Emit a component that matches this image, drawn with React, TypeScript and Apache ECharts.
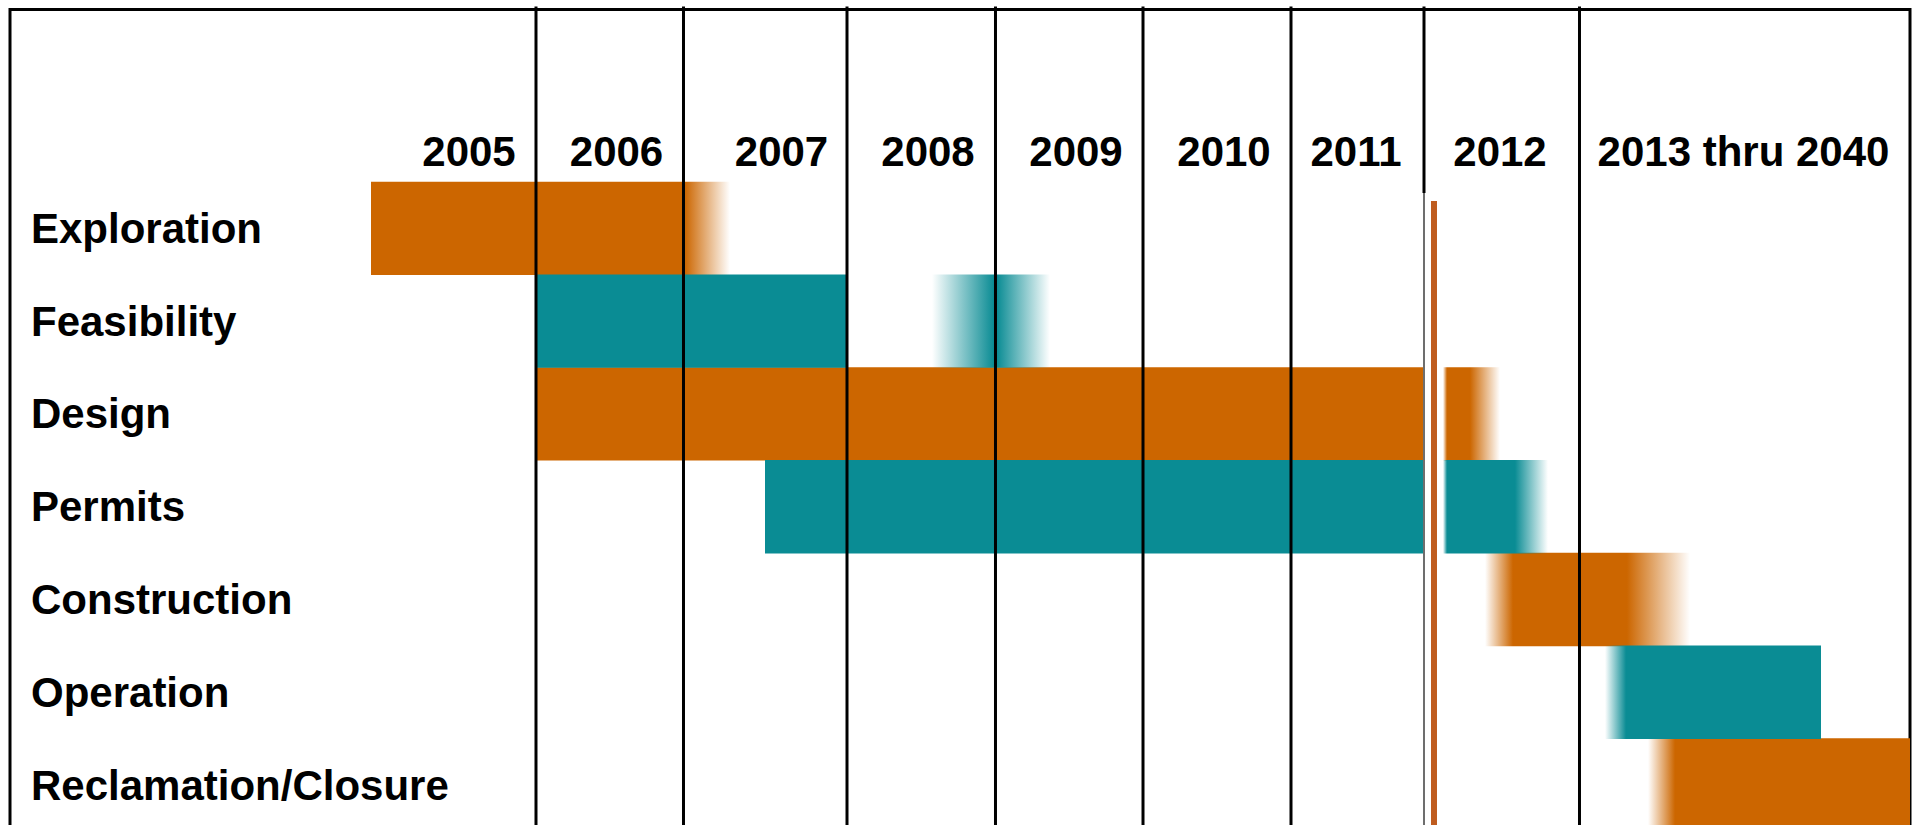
import React, { useEffect, useRef } from "react";
import * as echarts from "echarts";

// ---- data (x values are positions on the schedule, 0 = left edge of table, 100 = right edge) ----
const phases = [
  "Exploration",
  "Feasibility",
  "Design",
  "Permits",
  "Construction",
  "Operation",
  "Reclamation/Closure",
];

const yearLabels = ["2005", "2006", "2007", "2008", "2009", "2010", "2011", "2012", "2013 thru 2040"];
const yearLabelAt = [24.158, 31.921, 40.605, 48.316, 56.105, 63.895, 70.842, 78.421, 91.237];

// vertical column dividers between the year columns
const columnEdges = [27.684, 35.447, 44.053, 51.868, 59.632, 67.421, 74.421, 82.605];

// [phase index, fade-in from, solid from, solid to, fade-out to]
const orangeBars = [
  [0, 19.0, 19.0, 35.526, 37.895],
  [2, 27.684, 27.684, 74.368, 74.368],
  [2, 75.421, 75.632, 76.842, 78.421],
  [4, 77.632, 79.105, 85.105, 88.421],
  [6, 86.211, 87.632, 100, 100],
];
const tealBars = [
  [1, 27.684, 27.684, 44.053, 44.053],
  [1, 48.526, 51.789, 51.947, 54.737],
  [3, 39.737, 39.737, 74.368, 74.368],
  [3, 75.421, 75.632, 79.211, 80.947],
  [5, 83.947, 85.053, 95.316, 95.316],
];

// status date marker
const statusDate = 74.947;

// ---- layout / style ----
const W = 1923;
const H = 825;
const TABLE_LEFT = 10;
const TABLE_RIGHT_GAP = 13;
const TABLE_TOP = 9.5;
const ROWS_TOP = 182;
const ROW_H = 92.77;
const ORANGE = "204,102,0";
const TEAL = "10,140,148";
const FONT = "'Liberation Sans', Arial, Helvetica, sans-serif";

function barRenderer(rgb: string) {
  const solid = `rgb(${rgb})`;
  const clear = `rgba(${rgb},0)`;
  return (_params: any, api: any) => {
    const row = api.value(0);
    const a = api.coord([api.value(1), row]);
    const b = api.coord([api.value(2), row]);
    const c = api.coord([api.value(3), row]);
    const d = api.coord([api.value(4), row]);
    const h = api.size([0, 1])[1];
    const w = d[0] - a[0];
    const stops = [
      { offset: 0, color: b[0] > a[0] + 0.01 ? clear : solid },
      { offset: Math.max(0, Math.min(1, (b[0] - a[0]) / w)), color: solid },
      { offset: Math.max(0, Math.min(1, (c[0] - a[0]) / w)), color: solid },
      { offset: 1, color: d[0] > c[0] + 0.01 ? clear : solid },
    ];
    return {
      type: "rect",
      shape: { x: a[0], y: a[1] - h / 2 - 0.3, width: w, height: h + 0.6 },
      style: { fill: new echarts.graphic.LinearGradient(0, 0, 1, 0, stops) },
    };
  };
}

export default function App() {
  const ref = useRef<HTMLDivElement>(null);

  useEffect(() => {
    document.body.style.margin = "0";
    if (!ref.current) return;
    const chart = echarts.init(ref.current, null, { renderer: "svg" });

    let mutedEdge = -1;
    columnEdges.forEach((e, i) => {
      if (e < statusDate) mutedEdge = i;
    });

    const option: any = {
      animation: false,
      backgroundColor: "#ffffff",
      grid: [
        {
          left: TABLE_LEFT,
          right: TABLE_RIGHT_GAP,
          top: TABLE_TOP,
          bottom: -30,
          show: true,
          borderColor: "#000000",
          borderWidth: 3,
          backgroundColor: "transparent",
          containLabel: false,
          outerBoundsMode: "none",
        },
        {
          left: TABLE_LEFT,
          right: TABLE_RIGHT_GAP,
          top: ROWS_TOP,
          height: ROW_H * phases.length,
          containLabel: false,
          outerBoundsMode: "none",
        },
      ],
      xAxis: [
        { type: "value", gridIndex: 0, min: 0, max: 100, show: false },
        {
          type: "value",
          gridIndex: 1,
          min: 0,
          max: 100,
          position: "top",
          axisLine: { show: false },
          axisTick: { show: false },
          splitLine: { show: false },
          axisLabel: {
            customValues: yearLabelAt,
            formatter: (v: number) => {
              let best = 0;
              yearLabelAt.forEach((p, i) => {
                if (Math.abs(p - v) < Math.abs(yearLabelAt[best] - v)) best = i;
              });
              return yearLabels[best];
            },
            margin: 31,
            verticalAlign: "middle",
            color: "#000000",
            fontSize: 42,
            fontWeight: "bold",
            fontFamily: FONT,
          },
        },
      ],
      yAxis: [
        { type: "value", gridIndex: 0, min: 0, max: 1, show: false },
        {
          type: "category",
          gridIndex: 1,
          data: phases,
          inverse: true,
          axisLine: { show: false },
          axisTick: { show: false },
          splitLine: { show: false },
          axisLabel: {
            inside: true,
            margin: 21,
            color: "#000000",
            fontSize: 42,
            fontWeight: "bold",
            fontFamily: FONT,
          },
        },
      ],
      series: [
        {
          type: "custom",
          name: "orange phases",
          xAxisIndex: 1,
          yAxisIndex: 1,
          z: 2,
          silent: true,
          clip: false,
          encode: { x: [1, 2, 3, 4], y: 0 },
          data: orangeBars,
          renderItem: barRenderer(ORANGE),
        },
        {
          type: "custom",
          name: "teal phases",
          xAxisIndex: 1,
          yAxisIndex: 1,
          z: 2,
          silent: true,
          clip: false,
          encode: { x: [1, 2, 3, 4], y: 0 },
          data: tealBars,
          renderItem: barRenderer(TEAL),
        },
        {
          type: "custom",
          name: "column lines",
          xAxisIndex: 0,
          yAxisIndex: 0,
          z: 5,
          silent: true,
          clip: false,
          encode: { x: 0, y: 1 },
          data: columnEdges.map((e) => [e, 0]),
          renderItem: (params: any, api: any) => {
            const x = api.coord([api.value(0), 1])[0];
            const top = api.coord([0, 1])[1] - 3;
            const bottom = api.coord([0, 0])[1];
            if (params.dataIndex === mutedEdge) {
              const split = ROWS_TOP + 11;
              return {
                type: "group",
                children: [
                  {
                    type: "line",
                    shape: { x1: x, y1: top, x2: x, y2: split },
                    style: { stroke: "#000000", lineWidth: 3 },
                  },
                  {
                    type: "line",
                    shape: { x1: x, y1: split, x2: x, y2: bottom },
                    style: { stroke: "#6e6e6e", lineWidth: 2 },
                  },
                ],
              };
            }
            return {
              type: "line",
              shape: { x1: x, y1: top, x2: x, y2: bottom },
              style: { stroke: "#000000", lineWidth: 3 },
            };
          },
        },
        {
          type: "custom",
          name: "status date",
          xAxisIndex: 1,
          yAxisIndex: 1,
          z: 6,
          silent: true,
          clip: false,
          encode: { x: 0, y: 1 },
          data: [[statusDate, 0]],
          renderItem: (_params: any, api: any) => {
            const x = api.coord([api.value(0), 0])[0];
            return {
              type: "line",
              shape: { x1: x, y1: ROWS_TOP + 19, x2: x, y2: api.getHeight() + 10 },
              style: { stroke: "#BF5C1F", lineWidth: 6 },
            };
          },
        },
      ],
    };

    chart.setOption(option);
    return () => chart.dispose();
  }, []);

  return <div ref={ref} style={{ width: W, height: H }} />;
}
